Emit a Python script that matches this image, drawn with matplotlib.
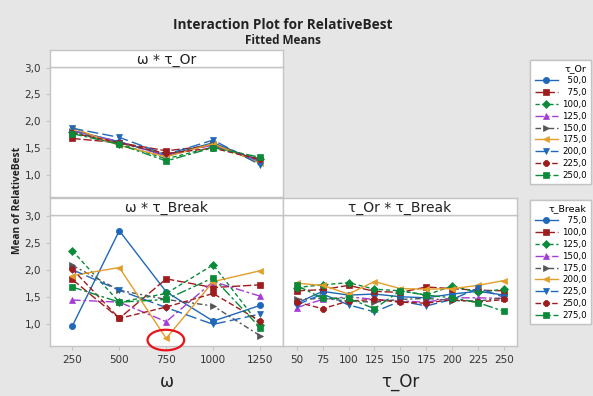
import matplotlib
matplotlib.use("Agg")
import matplotlib.pyplot as plt
from matplotlib.patches import Ellipse
import numpy as np

plt.rcParams['font.family'] = ['DejaVu Sans']

# ---------------- data ----------------
omega = [250, 500, 750, 1000, 1250]
tau_or = [50, 75, 100, 125, 150, 175, 200, 225, 250]
tau_break = [75, 100, 125, 150, 175, 200, 225, 250, 275]

omega_tick_labels = ["250", "500", "750", "1000", "1250"]
tau_or_tick_labels = ["50", "75", "100", "125", "150", "175", "200", "225", "250"]
y_ticks = [1.0, 1.5, 2.0, 2.5, 3.0]
y_tick_labels = ["1,0", "1,5", "2,0", "2,5", "3,0"]

tau_or_legend = ["50,0", "75,0", "100,0", "125,0", "150,0", "175,0", "200,0", "225,0", "250,0"]
tau_break_legend = ["75,0", "100,0", "125,0", "150,0", "175,0", "200,0", "225,0", "250,0", "275,0"]

# omega * tau_Or (rows: tau_Or levels, cols: omega)
omega_x_tauor = [
    [1.83, 1.62, 1.36, 1.60, 1.24],
    [1.68, 1.60, 1.45, 1.55, 1.28],
    [1.80, 1.58, 1.30, 1.52, 1.30],
    [1.82, 1.62, 1.35, 1.56, 1.27],
    [1.80, 1.60, 1.38, 1.58, 1.28],
    [1.88, 1.55, 1.34, 1.58, 1.22],
    [1.87, 1.70, 1.38, 1.65, 1.19],
    [1.78, 1.60, 1.40, 1.50, 1.29],
    [1.77, 1.57, 1.26, 1.51, 1.33],
]

# omega * tau_Break (rows: tau_Break levels, cols: omega)
omega_x_taubreak = [
    [0.96, 2.72, 1.59, 1.05, 1.34],
    [1.82, 1.10, 1.83, 1.67, 1.72],
    [2.35, 1.40, 1.56, 2.09, 0.97],
    [1.44, 1.40, 1.04, 1.78, 1.51],
    [2.08, 1.62, 1.45, 1.33, 0.78],
    [1.89, 2.04, 0.73, 1.78, 1.98],
    [2.00, 1.62, 1.30, 0.99, 1.18],
    [2.01, 1.10, 1.31, 1.56, 1.05],
    [1.68, 1.40, 1.45, 1.85, 0.93],
]

# tau_Or * tau_Break (rows: tau_Break levels, cols: tau_Or)
tauor_x_taubreak = [
    [1.38, 1.60, 1.53, 1.55, 1.50, 1.48, 1.55, 1.60, 1.53],
    [1.61, 1.63, 1.71, 1.60, 1.58, 1.68, 1.65, 1.62, 1.61],
    [1.67, 1.72, 1.76, 1.64, 1.61, 1.53, 1.70, 1.58, 1.64],
    [1.30, 1.45, 1.50, 1.45, 1.42, 1.40, 1.48, 1.48, 1.47],
    [1.45, 1.47, 1.42, 1.40, 1.45, 1.47, 1.43, 1.42, 1.48],
    [1.75, 1.71, 1.55, 1.78, 1.65, 1.64, 1.65, 1.71, 1.80],
    [1.35, 1.55, 1.35, 1.22, 1.42, 1.33, 1.45, 1.66, 1.49],
    [1.40, 1.28, 1.42, 1.45, 1.40, 1.38, 1.45, 1.40, 1.45],
    [1.71, 1.47, 1.47, 1.28, 1.61, 1.53, 1.48, 1.39, 1.23],
]

# ---------------- styles ----------------
BLUE = '#1f67b8'
RED = '#9e1b1e'
GREEN = '#0b8a3a'
PURPLE = '#a53bd6'
GRAY = '#555555'
ORANGE = '#e39d2a'
colors = [BLUE, RED, GREEN, PURPLE, GRAY, ORANGE, BLUE, RED, GREEN]
markers = ['o', 's', 'D', '^', '>', '<', 'v', '8', 's']
msizes = [4.5, 4.5, 3.8, 4.5, 4.5, 4.8, 4.8, 4.8, 4.5]
lstyles = ['-', (0, (6, 2)), (0, (3, 2)), (0, (6, 2, 2, 2)), (0, (4, 2, 1.5, 2)),
           '-', (0, (8, 3)), (0, (4, 2)), (0, (7, 2, 2, 2))]

BG = '#e6e6e6'
FRAME = '#c4c4c4'
TXT = '#333333'
TFONT = ['Open Sans', 'DejaVu Sans']

W, H = 593, 396
fig = plt.figure(figsize=(W / 100, H / 100), dpi=100, facecolor=BG)


def rect(x0, y0, x1, y1):
    return [x0 / W, 1 - y1 / H, (x1 - x0) / W, (y1 - y0) / H]


def style_ax(ax):
    ax.set_facecolor('white')
    for s in ax.spines.values():
        s.set_color(FRAME)
        s.set_linewidth(1.0)
    ax.tick_params(colors=FRAME, labelcolor=TXT, labelsize=7.5, length=3, width=0.8)
    ax.set_ylim(0.59, 3.01)
    ax.set_yticks(y_ticks)


def strip(x0, y0, x1, y1, text):
    s = fig.add_axes(rect(x0, y0, x1, y1))
    s.set_facecolor('white')
    s.set_xticks([])
    s.set_yticks([])
    for sp in s.spines.values():
        sp.set_color(FRAME)
        sp.set_linewidth(1.0)
    s.text(0.5, 0.42, text, ha='center', va='center', fontsize=10, color='#222222',
           transform=s.transAxes)
    return s


def draw_series(ax, xs, rows, labels):
    handles = []
    for i, row in enumerate(rows):
        h, = ax.plot(xs, row, color=colors[i], linestyle=lstyles[i], linewidth=1.0,
                     marker=markers[i], markersize=msizes[i], markeredgewidth=0.5,
                     markeredgecolor=colors[i], label=labels[i])
        handles.append(h)
    return handles


# top-left panel
ax1 = fig.add_axes(rect(50, 67, 283, 197))
style_ax(ax1)
ax1.set_xlim(131, 1372)
ax1.set_xticks(omega)
ax1.set_xticklabels([])
ax1.tick_params(axis='x', length=0)
ax1.set_yticklabels(y_tick_labels)
h_or = draw_series(ax1, omega, omega_x_tauor, tau_or_legend)
strip(50, 50, 283, 67, "ω * τ_Or")

# bottom-left panel
ax2 = fig.add_axes(rect(50, 215, 283, 346))
style_ax(ax2)
ax2.set_xlim(131, 1372)
ax2.set_xticks(omega)
ax2.set_xticklabels(omega_tick_labels)
ax2.set_yticklabels(y_tick_labels)
h_br = draw_series(ax2, omega, omega_x_taubreak, tau_break_legend)
ax2.add_patch(Ellipse((748, 0.70), 195, 0.38, fill=False, edgecolor='#e8141b',
                      linewidth=1.6, clip_on=False, zorder=10))
ax2.set_xlabel("ω", fontsize=12, color='#222222', labelpad=6)
strip(50, 198, 283, 215, "ω * τ_Break")

# bottom-right panel
ax3 = fig.add_axes(rect(283, 215, 517, 346))
style_ax(ax3)
ax3.set_xlim(36.8, 262.5)
ax3.set_xticks(tau_or)
ax3.set_xticklabels(tau_or_tick_labels)
ax3.set_yticklabels([])
ax3.tick_params(axis='y', length=0)
draw_series(ax3, tau_or, tauor_x_taubreak, tau_break_legend)
ax3.set_xlabel("τ_Or", fontsize=12, color='#222222', labelpad=6)
strip(283, 198, 517, 215, "τ_Or * τ_Break")

# titles
fig.text(283 / W, 1 - 25 / H, "Interaction Plot for RelativeBest", ha='center', va='center',
         fontsize=9.8, fontweight='bold', color='#222222', family=TFONT)
fig.text(283 / W, 1 - 40.5 / H, "Fitted Means", ha='center', va='center',
         fontsize=8.5, fontweight='bold', color='#222222', family=TFONT)
fig.text(18 / W, 1 - 200 / H, "Mean of RelativeBest", ha='center', va='center',
         rotation=90, fontsize=7.3, fontweight='bold', color='#222222', family=TFONT)


def pad(lbl):
    return "\u2007" * (5 - len(lbl)) + lbl


def make_legend(handles, labels, title, x1, y0):
    leg = fig.legend(handles, [pad(l) for l in labels], title=title,
                     loc='upper right', bbox_to_anchor=(x1 / W, 1 - y0 / H),
                     fontsize=6.2, title_fontsize=6.8, frameon=True, fancybox=False,
                     edgecolor=FRAME, facecolor='white', framealpha=1,
                     handlelength=2.7, handletextpad=0.5, labelspacing=0.33,
                     borderpad=0.5, alignment='right', borderaxespad=0)
    leg.get_frame().set_linewidth(1.0)
    fig.add_artist(leg)
    return leg


make_legend(h_or, tau_or_legend, "τ_Or", 591, 60)
make_legend(h_br, tau_break_legend, "τ_Break", 591, 200)

fig.savefig("out.png", dpi=100, facecolor=BG)
